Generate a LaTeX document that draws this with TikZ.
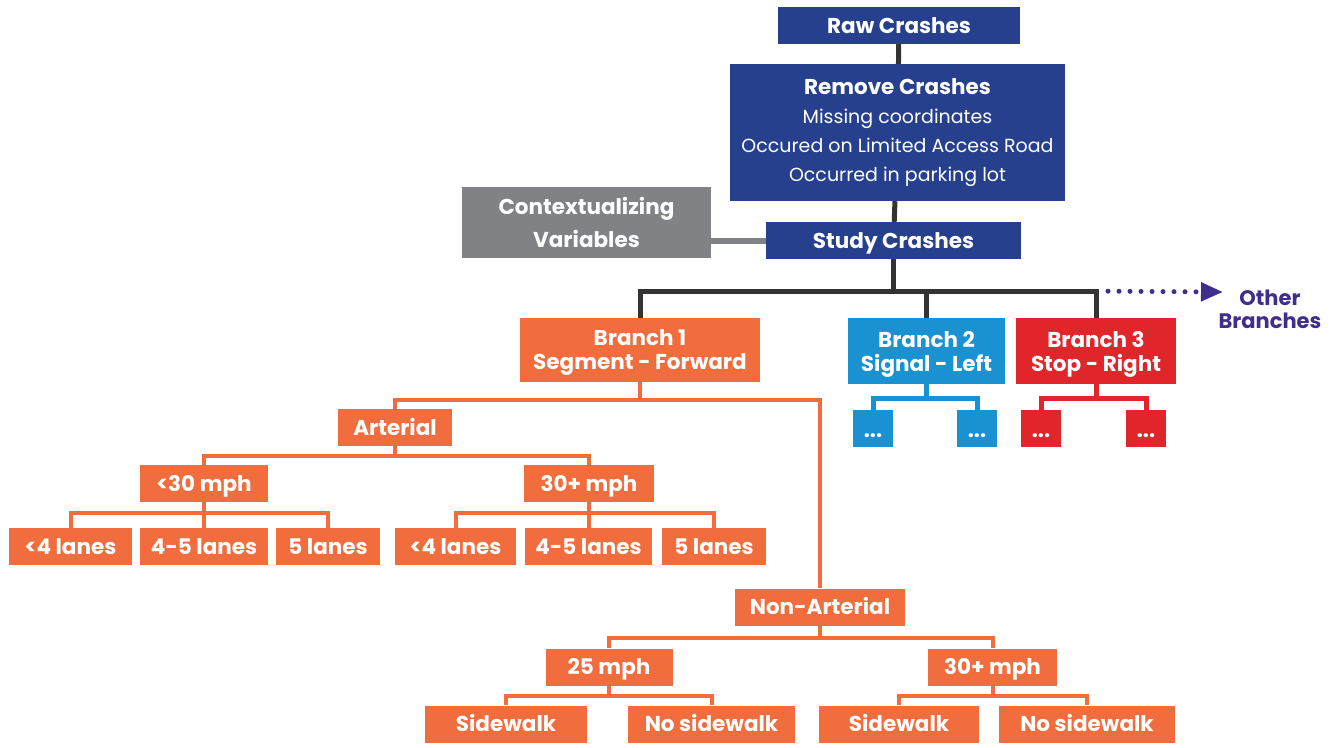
\documentclass[tikz,border=0pt]{standalone}
\usepackage{fontspec}
\setmainfont{Poppins}
\usepackage{tikz}
\usetikzlibrary{arrows.meta}

\definecolor{crashnavy}{RGB}{38,64,142}
\definecolor{ctxgrey}{RGB}{128,130,133}
\definecolor{trunkgrey}{RGB}{51,51,51}
\definecolor{branchorange}{RGB}{242,109,61}
\definecolor{branchblue}{RGB}{26,145,208}
\definecolor{branchred}{RGB}{224,38,42}
\definecolor{otherpurple}{RGB}{64,45,140}

\begin{document}
\begin{tikzpicture}[
	x=1pt, y=-1pt,
	every node/.style={font=\bfseries\fontsize{21.5}{24}\selectfont, text=white, inner sep=0pt, align=center, minimum height=37pt},
	one line/.style={text height=15pt, text depth=0pt},
	two lines/.style={text depth=0pt},
	navy box/.style={fill=crashnavy},
	grey box/.style={fill=ctxgrey, font=\bfseries\fontsize{21.5}{33}\selectfont},
	orange box/.style={fill=branchorange},
	blue box/.style={fill=branchblue},
	red box/.style={fill=branchred},
	dots box/.style={minimum width=40pt, text height=17pt, text depth=0pt},
	trunk/.style={draw=trunkgrey, line width=5pt},
	side link/.style={draw=ctxgrey, line width=6pt},
	orange link/.style={draw=branchorange, line width=4pt},
	blue link/.style={draw=branchblue, line width=5pt},
	red link/.style={draw=branchred, line width=5pt},
	more/.style={draw=otherpurple, line width=5pt, line cap=round, dash pattern=on 0pt off 11pt, -{Triangle[length=22pt, width=18pt]}},
	]
	\useasboundingbox (0,0) rectangle (1335,747);
	
	% Top of the pipeline
	\node (raw) [navy box, one line, minimum width=242pt] at (899,25.5) {Raw Crashes};
	\node (remove) [navy box, minimum width=335pt, minimum height=137pt, font=\fontsize{19}{29}\selectfont] at (897.5,132.5) {
		\textbf{\fontsize{21.5}{29}\selectfont Remove Crashes}\\
		Missing coordinates\\
		Occured on Limited Access Road\\
		Occurred in parking lot
	};
	\node (study) [navy box, one line, minimum width=255pt] at (893.5,240.5) {Study Crashes};
	\node (ctx) [grey box, minimum width=249pt, minimum height=71pt] at (586.5,222.5) {Contextualizing\\Variables};
	
	% The three branches
	\node (b1) [orange box, two lines, minimum width=240pt, minimum height=64pt] at (640,350) {Branch 1\\Segment - Forward};
	\node (b2) [blue box, two lines, minimum width=157pt, minimum height=66pt] at (926.5,351) {Branch 2\\Signal - Left};
	\node (b3) [red box, two lines, minimum width=160pt, minimum height=66pt] at (1096,351) {Branch 3\\Stop - Right};
	\node (other) [text=otherpurple, font=\bfseries\fontsize{21}{23}\selectfont] at (1270,309) {Other\\Branches};
	\coordinate (other tip) at (1223,292);
	
	% Branch 2 and 3 children
	\node (b2a) [blue box, dots box] at (873,428.5) {...};
	\node (b2b) [blue box, dots box] at (977,428.5) {...};
	\node (b3a) [red box, dots box] at (1041,428.5) {...};
	\node (b3b) [red box, dots box] at (1146,428.5) {...};
	
	% Branch 1 tree, arterial side
	\node (art) [orange box, one line, minimum width=114pt] at (395,427.5) {Arterial};
	\node (artlow) [orange box, one line, minimum width=128pt] at (204,483.5) {<30 mph};
	\node (arthigh) [orange box, one line, minimum width=130pt] at (589,483.5) {30+ mph};
	\node (ll1) [orange box, one line, minimum width=123pt] at (70.5,546.5) {<4 lanes};
	\node (ll2) [orange box, one line, minimum width=128pt] at (204,546.5) {4-5 lanes};
	\node (ll3) [orange box, one line, minimum width=104pt] at (328,546.5) {5 lanes};
	\node (hl1) [orange box, one line, minimum width=121pt] at (455.5,546.5) {<4 lanes};
	\node (hl2) [orange box, one line, minimum width=127pt] at (588.5,546.5) {4-5 lanes};
	\node (hl3) [orange box, one line, minimum width=104pt] at (714,546.5) {5 lanes};
	
	% Branch 1 tree, non-arterial side
	\node (nonart) [orange box, one line, minimum width=170pt] at (820,607) {Non-Arterial};
	\node (nlow) [orange box, one line, minimum width=127pt] at (609,667) {25 mph};
	\node (nhigh) [orange box, one line, minimum width=129pt] at (992.5,667) {30+ mph};
	\node (nlsw) [orange box, one line, minimum width=162pt] at (506,724) {Sidewalk};
	\node (nlno) [orange box, one line, minimum width=167pt] at (711.5,724) {No sidewalk};
	\node (nhsw) [orange box, one line, minimum width=160pt] at (899,724) {Sidewalk};
	\node (nhno) [orange box, one line, minimum width=176pt] at (1087,724) {No sidewalk};
	
	% Connectors
	\draw[trunk] (raw) -- (remove);
	\draw[trunk] (remove) -- (study);
	\draw[side link] (ctx.east |- study.west) -- (study.west);
	\draw[trunk] (study.south) -- ++(0,32) coordinate (fork);
	\draw[trunk, line join=miter] (fork) -| (b1.north);
	\draw[trunk] (fork) -| (b2.north);
	\draw[trunk, line join=miter] (fork) -| (b3.north);
	\draw[more] (fork -| b3.north) ++(12,0) -- (other tip);
	
	\foreach \kid in {b2a,b2b}
		\draw[blue link, line join=miter] (b2.south) -- ++(0,14) -| (\kid.north);
	\foreach \kid in {b3a,b3b}
		\draw[red link, line join=miter] (b3.south) -- ++(0,14) -| (\kid.north);
	
	\foreach \kid in {art,nonart}
		\draw[orange link, line join=miter] (b1.south) -- ++(0,18) -| (\kid.north);
	\foreach \kid in {artlow,arthigh}
		\draw[orange link, line join=miter] (art.south) -- ++(0,10) -| (\kid.north);
	\foreach \kid in {ll1,ll2,ll3}
		\draw[orange link, line join=miter] (artlow.south) -- ++(0,11) -| (\kid.north);
	\foreach \kid in {hl1,hl2,hl3}
		\draw[orange link, line join=miter] (arthigh.south) -- ++(0,11) -| (\kid.north);
	\foreach \kid in {nlow,nhigh}
		\draw[orange link, line join=miter] (nonart.south) -- ++(0,12) -| (\kid.north);
	\foreach \kid in {nlsw,nlno}
		\draw[orange link, line join=miter] (nlow.south) -- ++(0,10) -| (\kid.north);
	\foreach \kid in {nhsw,nhno}
		\draw[orange link, line join=miter] (nhigh.south) -- ++(0,10) -| (\kid.north);
	
\end{tikzpicture}
\end{document}
